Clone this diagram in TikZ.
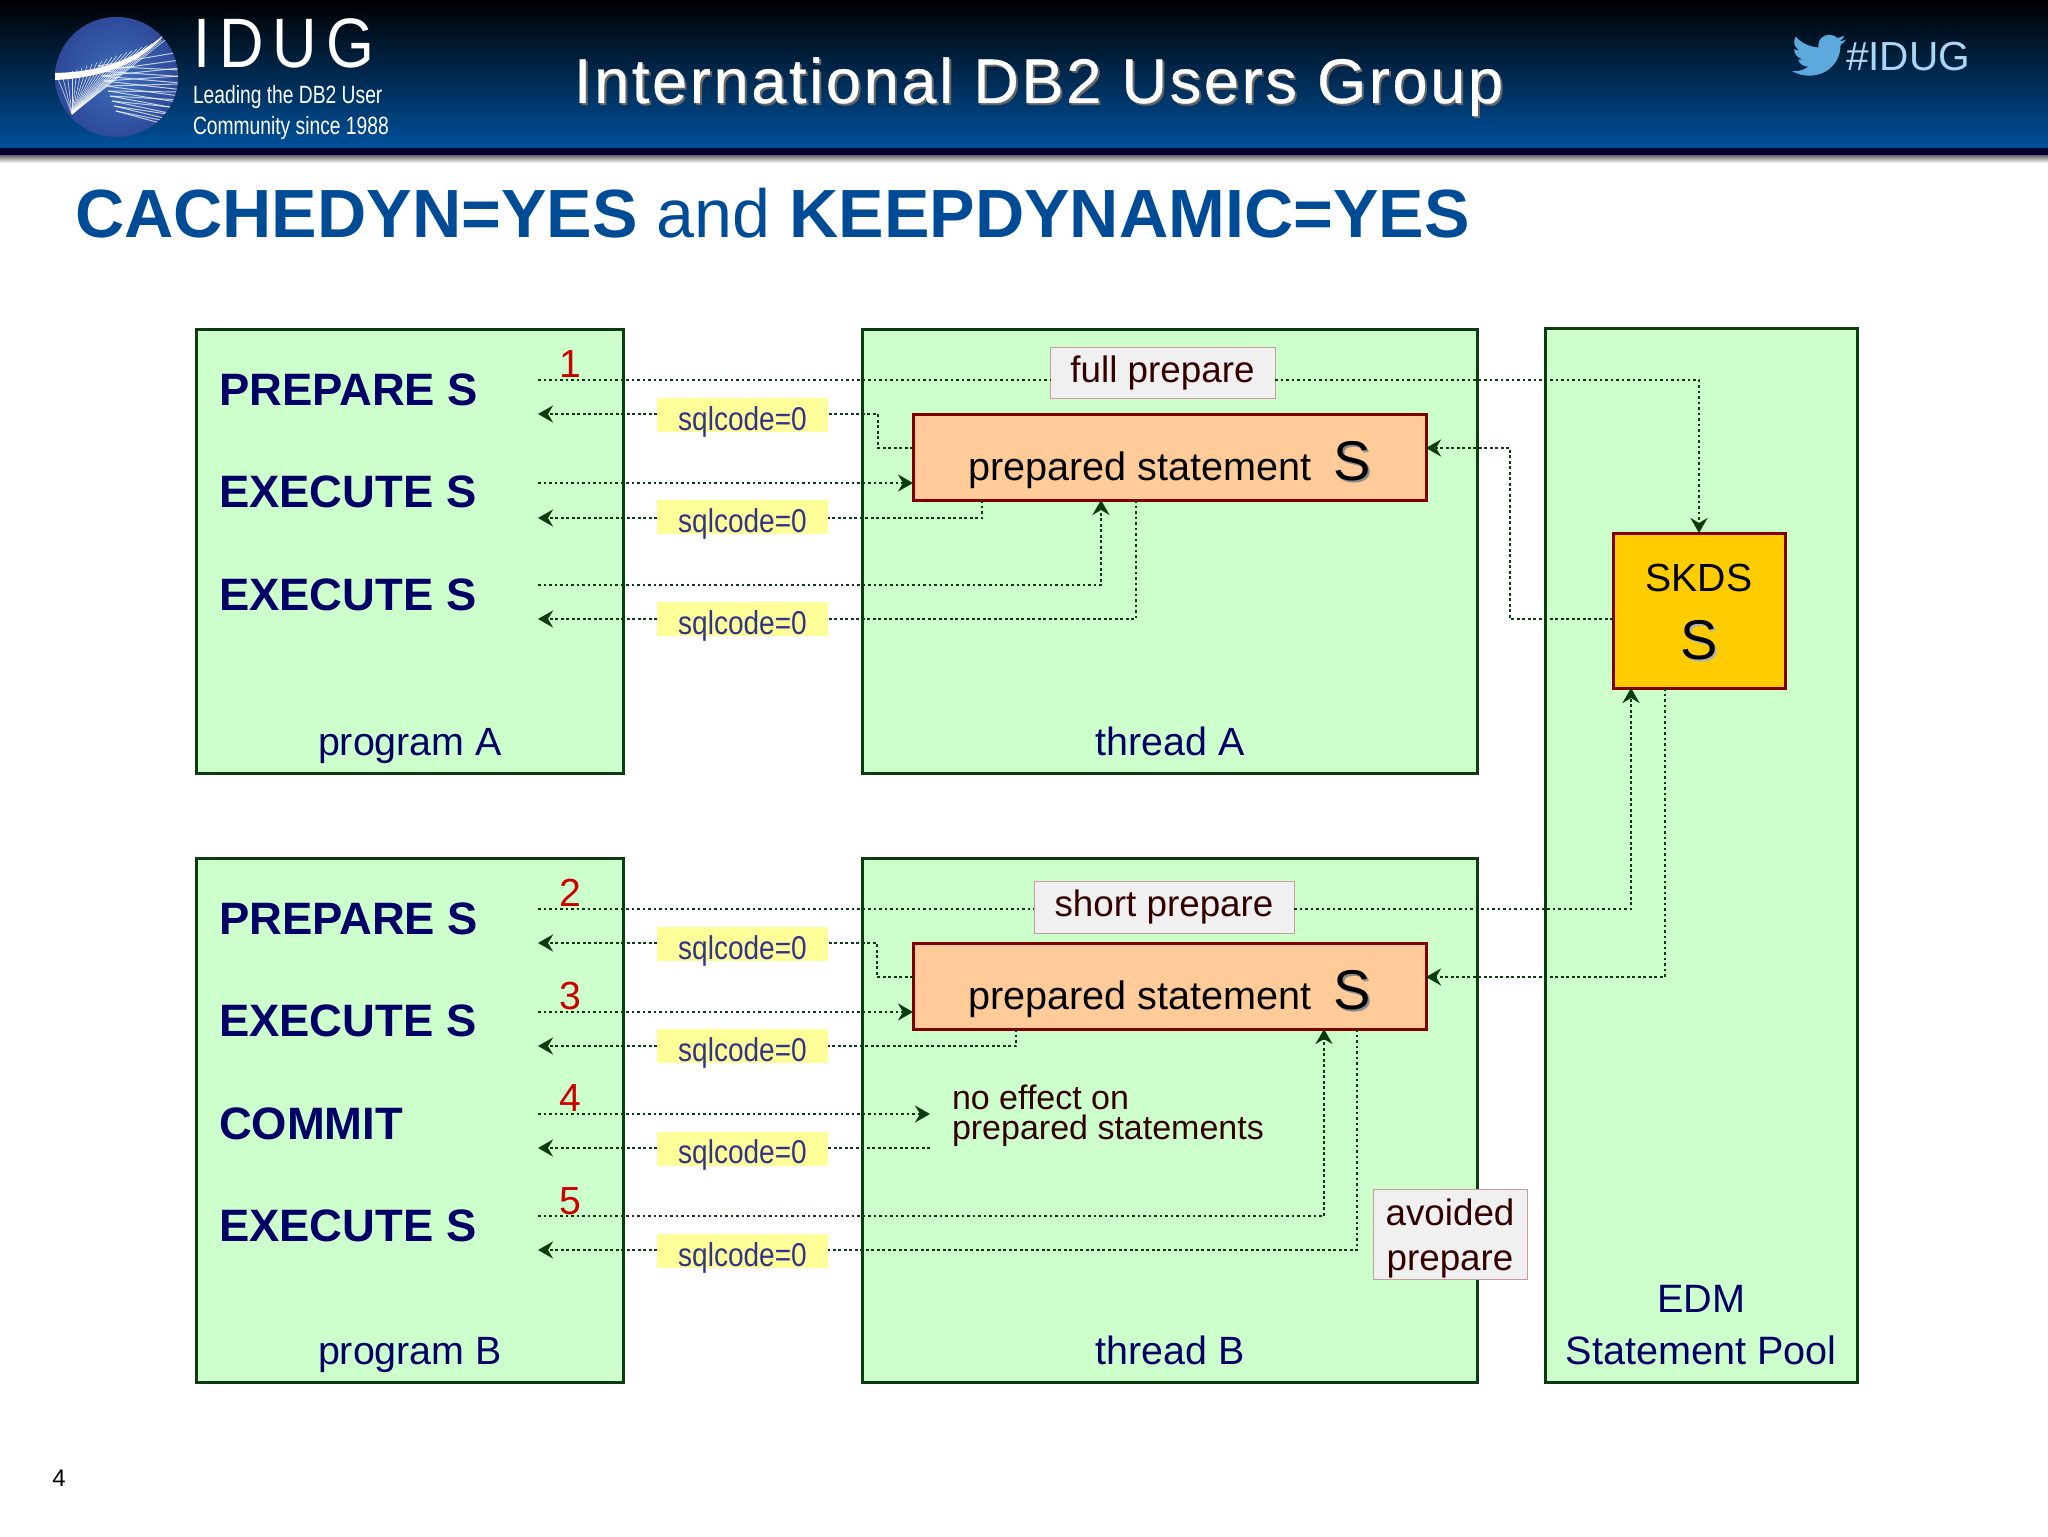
\documentclass[tikz,border=0pt]{standalone}
\usepackage{fontspec}
\setmainfont{Liberation Sans}
\newfontfamily\narrowfont[FakeStretch=0.85]{Liberation Sans}
\newfontfamily\logofont[FakeStretch=0.77]{Liberation Sans}
\newfontfamily\idugfont[FakeStretch=0.88,LetterSpace=13]{Liberation Sans}
\newfontfamily\headfont[LetterSpace=4.3,FakeBold=0.5]{Liberation Sans}
\usetikzlibrary{arrows.meta}
\definecolor{idugBlue}{RGB}{0, 75, 150}
\definecolor{headBlue}{RGB}{0, 80, 155}
\definecolor{globeBlue}{RGB}{60, 110, 185}
\definecolor{globeDark}{RGB}{45, 70, 150}
\definecolor{birdBlue}{RGB}{93, 169, 221}
\definecolor{tagBlue}{RGB}{170, 215, 245}
\definecolor{boxGreen}{RGB}{204, 255, 204}
\definecolor{lineGreen}{RGB}{10, 60, 15}
\definecolor{boxRed}{RGB}{128, 0, 0}
\definecolor{boxOrange}{RGB}{255, 204, 153}
\definecolor{boxGold}{RGB}{255, 204, 0}
\definecolor{sqlYellow}{RGB}{255, 255, 153}
\definecolor{stmtNavy}{RGB}{0, 0, 102}
\definecolor{sqlBlue}{RGB}{51, 51, 140}
\definecolor{noteBrown}{RGB}{51, 0, 0}
\newcommand{\shadowed}[2]{\leavevmode\rlap{\kern1pt\raisebox{-1pt}{\textcolor{#1}{#2}}}#2}

\begin{document}
\begin{tikzpicture} [
    x=0.5pt, y=-0.5pt,
    >={Stealth[length=7.5pt, width=8.5pt, inset=2.5pt]},
    every node/.style = { outer sep=0pt },
    panel/.style    = { rectangle, draw=lineGreen, line width=1.5pt, fill=boxGreen,
                        minimum width=213.5pt, minimum height=222pt},
    stmt/.style     = { anchor=west, inner sep=0pt, text=stmtNavy,
                        font=\fontsize{22.7}{26}\selectfont\bfseries},
    caption/.style  = { anchor=base, inner sep=0pt, text=stmtNavy, align=center,
                        font=\fontsize{19.7}{20}\selectfont},
    prepared/.style = { rectangle, draw=boxRed, line width=1.5pt, fill=boxOrange,
                        minimum width=256.5pt, inner xsep=0pt, inner ysep=0pt,
                        text height=33pt, text depth=10pt,
                        font=\fontsize{19.8}{22}\selectfont},
    sqlcode/.style  = { rectangle, fill=sqlYellow, minimum width=85.5pt,
                        inner ysep=0pt, text height=16pt, text depth=1pt, text=sqlBlue,
                        font=\fontsize{16.5}{18}\narrowfont},
    note/.style     = { rectangle, draw=red!30!gray!60, line width=0.5pt, fill=black!6,
                        text=noteBrown, inner sep=0pt, align=center,
                        font=\fontsize{18.4}{22.5}\selectfont},
    stepno/.style   = { inner sep=0pt, text=red!80!black, font=\fontsize{19.6}{22}\selectfont},
    line/.style     = { draw=lineGreen, line width=1.45pt, dash pattern=on 1.45pt off 1.3pt, ->},
  ]
\useasboundingbox (0,0) rectangle (2048,1536);

%Kopfzeile
  \shade [top color=black, bottom color=headBlue] (0,0) rectangle (2048,148);
  \fill [black!80!blue] (0,148) rectangle (2048,155);
  \shade [top color=black!60, bottom color=white] (0,155) rectangle (2048,163);

%Logo
  \begin{scope}
    \path [clip] (116.5,77) ellipse (61.5 and 60);
    \shade [inner color=globeBlue, outer color=globeDark] (50,10) rectangle (185,145);
    \foreach \i in {0,...,22} {
      \draw [white, line width=0.3pt, opacity=0.8] (72,114) -- ({57+\i*5},{76-\i*1.7});
    }
    \foreach \i in {0,...,9} {
      \draw [white, line width=0.5pt, opacity=0.7] ({98+\i*2},{66+\i*5}) -- (180,{52+\i*8});
      \draw [white, line width=0.5pt, opacity=0.7] ({98+\i*2},{66+\i*5}) -- (180,{70+\i*6.5});
    }
    \fill [white] (55,73) .. controls (100,72) and (135,60) .. (166,33)
                  .. controls (140,65) and (100,78) .. (55,80) -- cycle;
  \end{scope}
  \node [anchor=base west, inner sep=0pt, text=white, font=\fontsize{35}{38}\idugfont] (logoname) at (193,68) {IDUG};
  \node [anchor=base west, inner sep=0pt, text=white, font=\fontsize{12.5}{14}\logofont] (logoline1) at (193,104) {Leading the DB2 User};
  \node [anchor=base west, inner sep=0pt, text=white, font=\fontsize{12.5}{14}\logofont] (logoline2) at (193,134) {Community since 1988};
  \node [anchor=base west, inner sep=0pt, text=white, font=\fontsize{31.5}{34}\headfont] (head) at (574,103) {\shadowed{black!60}{International DB2 Users Group}};

%Vogel und Hashtag
  \begin{scope} [shift={(1792,30)}, x=1.125pt, y=-1.05pt]
    \fill [birdBlue] (24,4.6) .. controls (23.1,5.0) and (22.1,5.25) .. (21.13,5.35)
      .. controls (22.15,4.74) and (22.9,3.77) .. (23.29,2.62)
      .. controls (22.34,3.18) and (21.29,3.58) .. (20.16,3.8)
      .. controls (19.27,2.85) and (18.0,2.26) .. (16.6,2.26)
      .. controls (13.88,2.26) and (11.68,4.46) .. (11.68,7.18)
      .. controls (11.68,7.57) and (11.72,7.94) .. (11.8,8.3)
      .. controls (7.69,8.1) and (4.07,6.13) .. (1.64,3.16)
      .. controls (1.22,3.89) and (.97,4.73) .. (.97,5.64)
      .. controls (.97,7.35) and (1.84,8.85) .. (3.16,9.73)
      .. controls (2.35,9.71) and (1.6,9.49) .. (.93,9.12)
      -- (.93,9.18)
      .. controls (.93,11.56) and (2.63,13.55) .. (4.88,14.0)
      .. controls (4.17,14.2) and (3.42,14.22) .. (2.67,14.09)
      .. controls (3.3,16.05) and (5.1,17.46) .. (7.27,17.5)
      .. controls (5.6,18.83) and (3.5,19.6) .. (1.17,19.6)
      .. controls (.78,19.6) and (.39,19.58) .. (0,19.54)
      .. controls (2.18,20.93) and (4.77,21.75) .. (7.56,21.75)
      .. controls (16.6,21.75) and (21.55,14.25) .. (21.55,7.76)
      .. controls (21.55,7.55) and (21.55,7.34) .. (21.54,7.13)
      .. controls (22.5,6.44) and (23.33,5.58) .. (24,4.6) -- cycle;
  \end{scope}
  \node [anchor=base west, inner sep=0pt, text=tagBlue, font=\fontsize{20.3}{24}\selectfont] (hashtag) at (1846,71) {\#IDUG};

%Titel
  \node [anchor=base west, inner sep=0pt, text=idugBlue, font=\fontsize{34.1}{38}\selectfont] (title) at (75,237)
    {\textbf{CACHEDYN=YES} and \textbf{KEEPDYNAMIC=YES}};

%Rahmen
  \node [panel] (progA) at (409.5,551) {};
  \node [panel, minimum width=307.5pt] (threadA) at (1169.5,551) {};
  \node [panel, minimum height=262pt] (progB) at (409.5,1120) {};
  \node [panel, minimum width=307.5pt, minimum height=262pt] (threadB) at (1169.5,1120) {};
  \node [panel, minimum width=156pt, minimum height=527pt] (pool) at (1701,855) {};

%Beschriftung der Rahmen
  \node [caption] (progAname) at (410,755) {program A};
  \node [caption] (threadAname) at (1170,755) {thread A};
  \node [caption] (progBname) at (410,1364) {program B};
  \node [caption] (threadBname) at (1170,1364) {thread B};
  \node [caption, font=\fontsize{19.8}{25.6}\selectfont] (poolname) at (1701,1364) {EDM\\Statement Pool};

%Anweisungen
  \node [stmt] (s1) at (219,390) {PREPARE S};
  \node [stmt] (s2) at (219,492) {EXECUTE S};
  \node [stmt] (s3) at (219,595) {EXECUTE S};
  \node [stmt] (s4) at (219,919) {PREPARE S};
  \node [stmt] (s5) at (219,1021) {EXECUTE S};
  \node [stmt] (s6) at (219,1124) {COMMIT};
  \node [stmt] (s7) at (219,1226) {EXECUTE S};

%Schritte
  \node [stepno] (no1) at (570,364) {1};
  \node [stepno] (no2) at (570,893) {2};
  \node [stepno] (no3) at (570,996) {3};
  \node [stepno] (no4) at (570,1098) {4};
  \node [stepno] (no5) at (570,1201) {5};

%Knotenbenennung Zahl = Zeile; a=links, b=sqlcode
  \coordinate (1a) at (538,380);
  \coordinate (2a) at (538,414);
  \coordinate (3a) at (538,483);
  \coordinate (4a) at (538,518);
  \coordinate (5a) at (538,585);
  \coordinate (6a) at (538,619);
  \coordinate (7a) at (538,909);
  \coordinate (8a) at (538,943);
  \coordinate (9a) at (538,1012);
  \coordinate (10a) at (538,1046);
  \coordinate (11a) at (538,1114);
  \coordinate (12a) at (538,1148);
  \coordinate (13a) at (538,1216);
  \coordinate (14a) at (538,1250);

  \node [sqlcode] (2b) at (742.5,415) {sqlcode=0};
  \node [sqlcode] (4b) at (742.5,517) {sqlcode=0};
  \node [sqlcode] (6b) at (742.5,619) {sqlcode=0};
  \node [sqlcode] (8b) at (742.5,944) {sqlcode=0};
  \node [sqlcode] (10b) at (742.5,1046) {sqlcode=0};
  \node [sqlcode] (12b) at (742.5,1148.5) {sqlcode=0};
  \node [sqlcode] (14b) at (742.5,1251) {sqlcode=0};

%Speicher
  \node [prepared] (prepA) at (1169.5,457) {prepared statement\hspace{11pt}\fontsize{28}{30}\selectfont\shadowed{black!45}{S}};
  \node [prepared] (prepB) at (1169.5,986) {prepared statement\hspace{11pt}\fontsize{28}{30}\selectfont\shadowed{black!45}{S}};
  \node [rectangle, draw=boxRed, line width=1.5pt, fill=boxGold, minimum width=86pt, minimum height=77.5pt,
         inner sep=0pt, align=center, font=\fontsize{19.6}{30}\selectfont] (skds) at (1699,610.5)
         {\rule{0pt}{16.3pt}SKDS\\[4pt]\fontsize{28}{30}\selectfont\shadowed{black!30}{S}};

%Hinweise
  \node [note, minimum width=112.5pt, minimum height=25.5pt] (fullA) at (1162.5,372.5) {full prepare};
  \node [note, minimum width=130pt, minimum height=26pt] (shortB) at (1164,907) {short prepare};
  \node [note, minimum width=77pt, minimum height=45pt] (avoid) at (1450,1234) {\rule{0pt}{17.5pt}avoided\\prepare};
  \node [anchor=west, inner sep=0pt, inner xsep=11pt, align=left, text=noteBrown,
         font=\fontsize{17}{15}\selectfont] (effect) at (930,1116) {no effect on\\prepared statements};

%Pfeile Thread A
  \begin{scope} [every path/.style={line}]
   \path [-] (1a) -- (1a -| fullA.west);
   \path (fullA.east |- 1a) -| (skds.north);
   \path (skds.west |- 6a) -- ++(-103,0) |- ([yshift=4.5pt]prepA.east);
   \path [-] ([yshift=4.5pt]prepA.west) -- ++(-35,0) |- (2b.east |- 2a);
   \path (2b.west |- 2a) -- (2a);
   \path (3a) -- (3a -| prepA.west);
   \path [-] ([xshift=-93.75pt]prepA.south) |- (4b.east |- 4a);
   \path (4b.west |- 4a) -- (4a);
   \path (5a) -| ([xshift=-34.25pt]prepA.south);
   \path [-] ([xshift=-16.75pt]prepA.south) |- (6b.east |- 6a);
   \path (6b.west |- 6a) -- (6a);
  \end{scope}

%Pfeile Thread B
  \begin{scope} [every path/.style={line}]
   \path [-] (7a) -- (7a -| shortB.west);
   \path (shortB.east |- 7a) -| ([xshift=-34pt]skds.south);
   \path ([xshift=-17pt]skds.south) |- ([yshift=4.5pt]prepB.east);
   \path [-] ([yshift=4.5pt]prepB.west) -- ++(-36,0) |- (8b.east |- 8a);
   \path (8b.west |- 8a) -- (8a);
   \path (9a) -- (9a -| prepB.west);
   \path [-] ([xshift=-76.75pt]prepB.south) |- (10b.east |- 10a);
   \path (10b.west |- 10a) -- (10a);
   \path (11a) -- (11a -| effect.west);
   \path [-] (effect.west |- 12a) -- (12b.east |- 12a);
   \path (12b.west |- 12a) -- (12a);
   \path (13a) -| ([xshift=77.25pt]prepB.south);
   \path [-] ([xshift=93.75pt]prepB.south) |- (14b.east |- 14a);
   \path (14b.west |- 14a) -- (14a);
  \end{scope}

  \node [inner sep=0pt, font=\fontsize{12}{14}\selectfont] (pageno) at (59,1478) {4};
\end{tikzpicture}
\end{document}
